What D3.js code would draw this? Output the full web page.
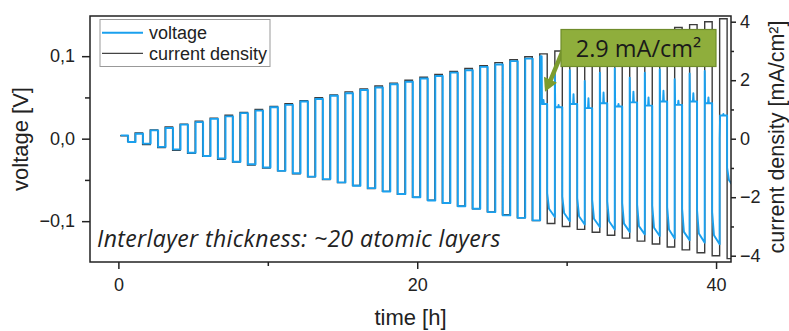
<!DOCTYPE html>
<html>
<head>
<meta charset="utf-8">
<script src="https://cdn.jsdelivr.net/npm/d3@7"></script>
<style>
body { margin: 0; background: #fff; }
svg { display: block; font-family: "Liberation Sans", Arial, sans-serif; }
</style>
</head>
<body>
<div id="chart"></div>
<script>
// start time [h] of each current pulse (positive half first, then negative)
var cycleStart = [0.12, 1.12, 2.13, 3.13, 4.13, 5.14, 6.14, 7.14, 8.14, 9.15,
  10.15, 11.15, 12.16, 13.16, 14.16, 15.17, 16.17, 17.17, 18.17, 19.18,
  20.18, 21.18, 22.19, 23.19, 24.19, 25.2, 26.2, 27.2, 28.2, 29.21,
  30.21, 31.21, 32.22, 33.22, 34.22, 35.23, 36.23, 37.23, 38.23, 39.24, 40.24];

// current density amplitude [mA/cm2]
var currentAmp = [0.1, 0.2, 0.3, 0.4, 0.5, 0.6, 0.7, 0.8, 0.9, 1.0,
  1.1, 1.2, 1.3, 1.4, 1.5, 1.6, 1.7, 1.8, 1.9, 2.0,
  2.1, 2.2, 2.3, 2.4, 2.5, 2.6, 2.7, 2.8, 2.9, 3.0,
  3.1, 3.2, 3.3, 3.4, 3.5, 3.6, 3.7, 3.8, 3.9, 4.0, 4.1];

// voltage plateau in positive half [V]
var vPlus = [0.004, 0.006, 0.010, 0.013, 0.017, 0.020, 0.024, 0.027, 0.031, 0.034,
  0.038, 0.041, 0.045, 0.048, 0.052, 0.055, 0.059, 0.062, 0.066, 0.069,
  0.073, 0.076, 0.080, 0.083, 0.087, 0.090, 0.094, 0.097, 0.042, 0.038,
  0.042, 0.037, 0.043, 0.039, 0.044, 0.040, 0.045, 0.041, 0.045, 0.043, 0.028];

// voltage at the end of negative half [V]
var vMinus = [-0.004, -0.006, -0.010, -0.013, -0.017, -0.021, -0.024, -0.028, -0.031, -0.035,
  -0.039, -0.042, -0.046, -0.049, -0.053, -0.057, -0.060, -0.064, -0.067, -0.071,
  -0.075, -0.078, -0.082, -0.085, -0.089, -0.093, -0.096, -0.099, -0.095, -0.100,
  -0.104, -0.107, -0.110, -0.113, -0.116, -0.118, -0.121, -0.123, -0.126, -0.128, -0.060];

// cycles 29..41 (after the drop at 2.9 mA/cm2)
var lateFirst = 28;
var latePeak = [0.100, 0.078, 0.083, 0.070, 0.080, 0.085, 0.074, 0.080, 0.084, 0.072, 0.079, 0.082, 0.000];
var lateBump = [0.047, 0.041, 0.054, 0.049, 0.056, 0.042, 0.057, 0.050, 0.058, 0.046, 0.055, 0.050, 0.030];
var lateNegStart = [-0.066, -0.070, -0.072, -0.074, -0.076, -0.078, -0.080, -0.081, -0.083, -0.085, -0.087, -0.089, -0.035];
var lateNegMid = [-0.085, -0.090, -0.094, -0.097, -0.100, -0.103, -0.106, -0.108, -0.110, -0.113, -0.115, -0.117, -0.050];

var xMajor = [0, 20, 40], xMinor = [10, 30];
var vMajor = [-0.1, 0, 0.1], vMinor = [-0.05, 0.05];
var iMajor = [-4, -2, 0, 2, 4], iMinor = [-3, -1, 1, 3];

var W = 789, H = 331;
var m = {left: 90, top: 16, right: 731, bottom: 262};

var svg = d3.select('#chart')
            .append('svg')
            .attr('width', W)
            .attr('height', H);

var x = d3.scaleLinear().domain([-1.9, 41.0]).range([m.left, m.right]);
var yV = d3.scaleLinear().domain([-0.1495, 0.1487]).range([m.bottom, m.top]);
var yI = d3.scaleLinear().domain([-4.215, 4.195]).range([m.bottom, m.top]);

svg.append('clipPath').attr('id', 'plot')
  .append('rect')
  .attr('x', m.left).attr('y', m.top)
  .attr('width', m.right - m.left).attr('height', m.bottom - m.top);

// build step traces
var curPts = [], volPts = [];
cycleStart.forEach(function(t, i){
  var tEnd = i < cycleStart.length - 1 ? cycleStart[i + 1] : t + 1;
  var a = currentAmp[i];
  curPts.push([t, a], [t + 0.5, a], [t + 0.5, -a], [tEnd, -a]);

  // voltage responds a little after the current switches
  var tv = t + 0.03;
  if (i < lateFirst){
    volPts.push([tv, vPlus[i]], [tv + 0.5, vPlus[i]], [tv + 0.5, vMinus[i]], [tEnd + 0.03, vMinus[i]]);
  } else {
    var j = i - lateFirst;
    if (j == 0){
      volPts.push([tv, latePeak[j]], [t + 0.13, latePeak[j]], [t + 0.15, vPlus[i]]);
    } else {
      volPts.push([t, latePeak[j]], [t + 0.03, vPlus[i]]);
    }
    volPts.push([t + 0.22, vPlus[i]], [t + 0.25, lateBump[j]], [t + 0.28, vPlus[i]],
      [t + 0.5, vPlus[i]], [t + 0.5, lateNegStart[j]], [t + 0.62, lateNegMid[j]], [tEnd, vMinus[i]]);
  }
});

var g = svg.append('g').attr('clip-path', 'url(#plot)');

g.append('path')
  .attr('d', d3.line().x(function(d){ return x(d[0]); }).y(function(d){ return yI(d[1]); })(curPts))
  .attr('fill', 'none')
  .attr('stroke', '#3c3c3c')
  .attr('stroke-width', 1.4);

g.append('path')
  .attr('d', d3.line().x(function(d){ return x(d[0]); }).y(function(d){ return yV(d[1]); })(volPts))
  .attr('fill', 'none')
  .attr('stroke', '#1aa0ee')
  .attr('stroke-width', 1.9)
  .attr('stroke-linejoin', 'round');

// axes
function styleAxis(sel){
  sel.select('.domain').remove();
  sel.selectAll('line').attr('stroke', '#222').attr('stroke-width', 1.5);
  sel.selectAll('text').attr('fill', '#222').style('font-size', '18px')
     .style('font-family', '"Liberation Sans", Arial, sans-serif');
}
var commaFmt = function(d){ return d3.format('.1f')(d).replace('.', ','); };

svg.append('g').attr('transform', 'translate(' + m.left + ',0)')
  .call(d3.axisLeft(yV).tickValues(vMajor).tickSize(8).tickPadding(7).tickFormat(commaFmt))
  .call(styleAxis);
svg.append('g').attr('transform', 'translate(' + m.left + ',0)')
  .call(d3.axisLeft(yV).tickValues(vMinor).tickSize(5).tickFormat(''))
  .call(styleAxis);

svg.append('g').attr('transform', 'translate(0,' + m.bottom + ')')
  .call(d3.axisBottom(x).tickValues(xMajor).tickSize(7).tickPadding(9).tickFormat(d3.format('d')))
  .call(styleAxis);
svg.append('g').attr('transform', 'translate(0,' + m.bottom + ')')
  .call(d3.axisBottom(x).tickValues(xMinor).tickSize(4).tickFormat(''))
  .call(styleAxis);

svg.append('g').attr('transform', 'translate(' + m.right + ',0)')
  .call(d3.axisRight(yI).tickValues(iMajor).tickSize(5).tickPadding(4).tickFormat(d3.format('d')))
  .call(styleAxis);
svg.append('g').attr('transform', 'translate(' + m.right + ',0)')
  .call(d3.axisRight(yI).tickValues(iMinor).tickSize(3).tickFormat(''))
  .call(styleAxis);

// frame
svg.append('rect')
  .attr('x', m.left).attr('y', m.top)
  .attr('width', m.right - m.left).attr('height', m.bottom - m.top)
  .attr('fill', 'none').attr('stroke', '#222').attr('stroke-width', 1.5);

// titles
svg.append('text')
  .attr('transform', 'translate(28,139) rotate(-90)')
  .attr('text-anchor', 'middle')
  .style('font-size', '22px').attr('fill', '#222')
  .text('voltage [V]');

svg.append('text')
  .attr('x', (m.left + m.right) / 2).attr('y', 325)
  .attr('text-anchor', 'middle')
  .style('font-size', '22px').attr('fill', '#222')
  .text('time [h]');

svg.append('text')
  .attr('transform', 'translate(784,137) rotate(-90)')
  .attr('text-anchor', 'middle')
  .style('font-size', '21.5px').attr('fill', '#222')
  .text('current density [mA/cm²]');

// legend
var lg = svg.append('g');
lg.append('rect')
  .attr('x', 100).attr('y', 19.5).attr('width', 170).attr('height', 47)
  .attr('fill', '#fff').attr('stroke', '#999').attr('stroke-width', 1);
var legendItems = [
  {label: 'voltage', color: '#1aa0ee', w: 2},
  {label: 'current density', color: '#444', w: 1.2}
];
legendItems.forEach(function(d, i){
  var yy = 32.7 + i * 20.6;
  lg.append('line').attr('x1', 102).attr('x2', 143).attr('y1', yy).attr('y2', yy)
    .attr('stroke', d.color).attr('stroke-width', d.w);
  lg.append('text').attr('x', 149).attr('y', yy + 6.3)
    .style('font-size', '18px').attr('fill', '#222')
    .text(d.label);
});

// interlayer note
svg.append('text')
  .attr('x', 97).attr('y', 246.5)
  .style('font-family', '"Open Sans", Lato, sans-serif')
  .style('font-style', 'italic')
  .style('font-size', '23px')
  .style('letter-spacing', '0.4px')
  .attr('fill', '#222')
  .text('Interlayer thickness: ~20 atomic layers');

// annotation with arrow to the first cycle with the voltage drop
var tipX = x(cycleStart[lateFirst] + 0.35), tipY = yV(0.057);
var ann = svg.append('g');
ann.append('line')
  .attr('x1', 563).attr('y1', 50)
  .attr('x2', tipX + 5).attr('y2', tipY - 10)
  .attr('stroke', '#7c9c2e').attr('stroke-width', 4.5);
ann.append('path')
  .attr('d', 'M' + tipX + ',' + tipY + ' l-1,-15 l13,6 z')
  .attr('fill', '#7c9c2e');
ann.append('rect')
  .attr('x', 561).attr('y', 29.5).attr('width', 155).attr('height', 37)
  .attr('fill', '#8fae3c').attr('stroke', '#6f8c2b').attr('stroke-width', 1.2);
ann.append('text')
  .attr('x', 638.5).attr('y', 56.5)
  .attr('text-anchor', 'middle')
  .style('font-family', '"Open Sans", Lato, sans-serif')
  .style('font-size', '23.5px')
  .attr('fill', '#1a1a1a')
  .text('2.9 mA/cm²');
</script>
</body>
</html>
